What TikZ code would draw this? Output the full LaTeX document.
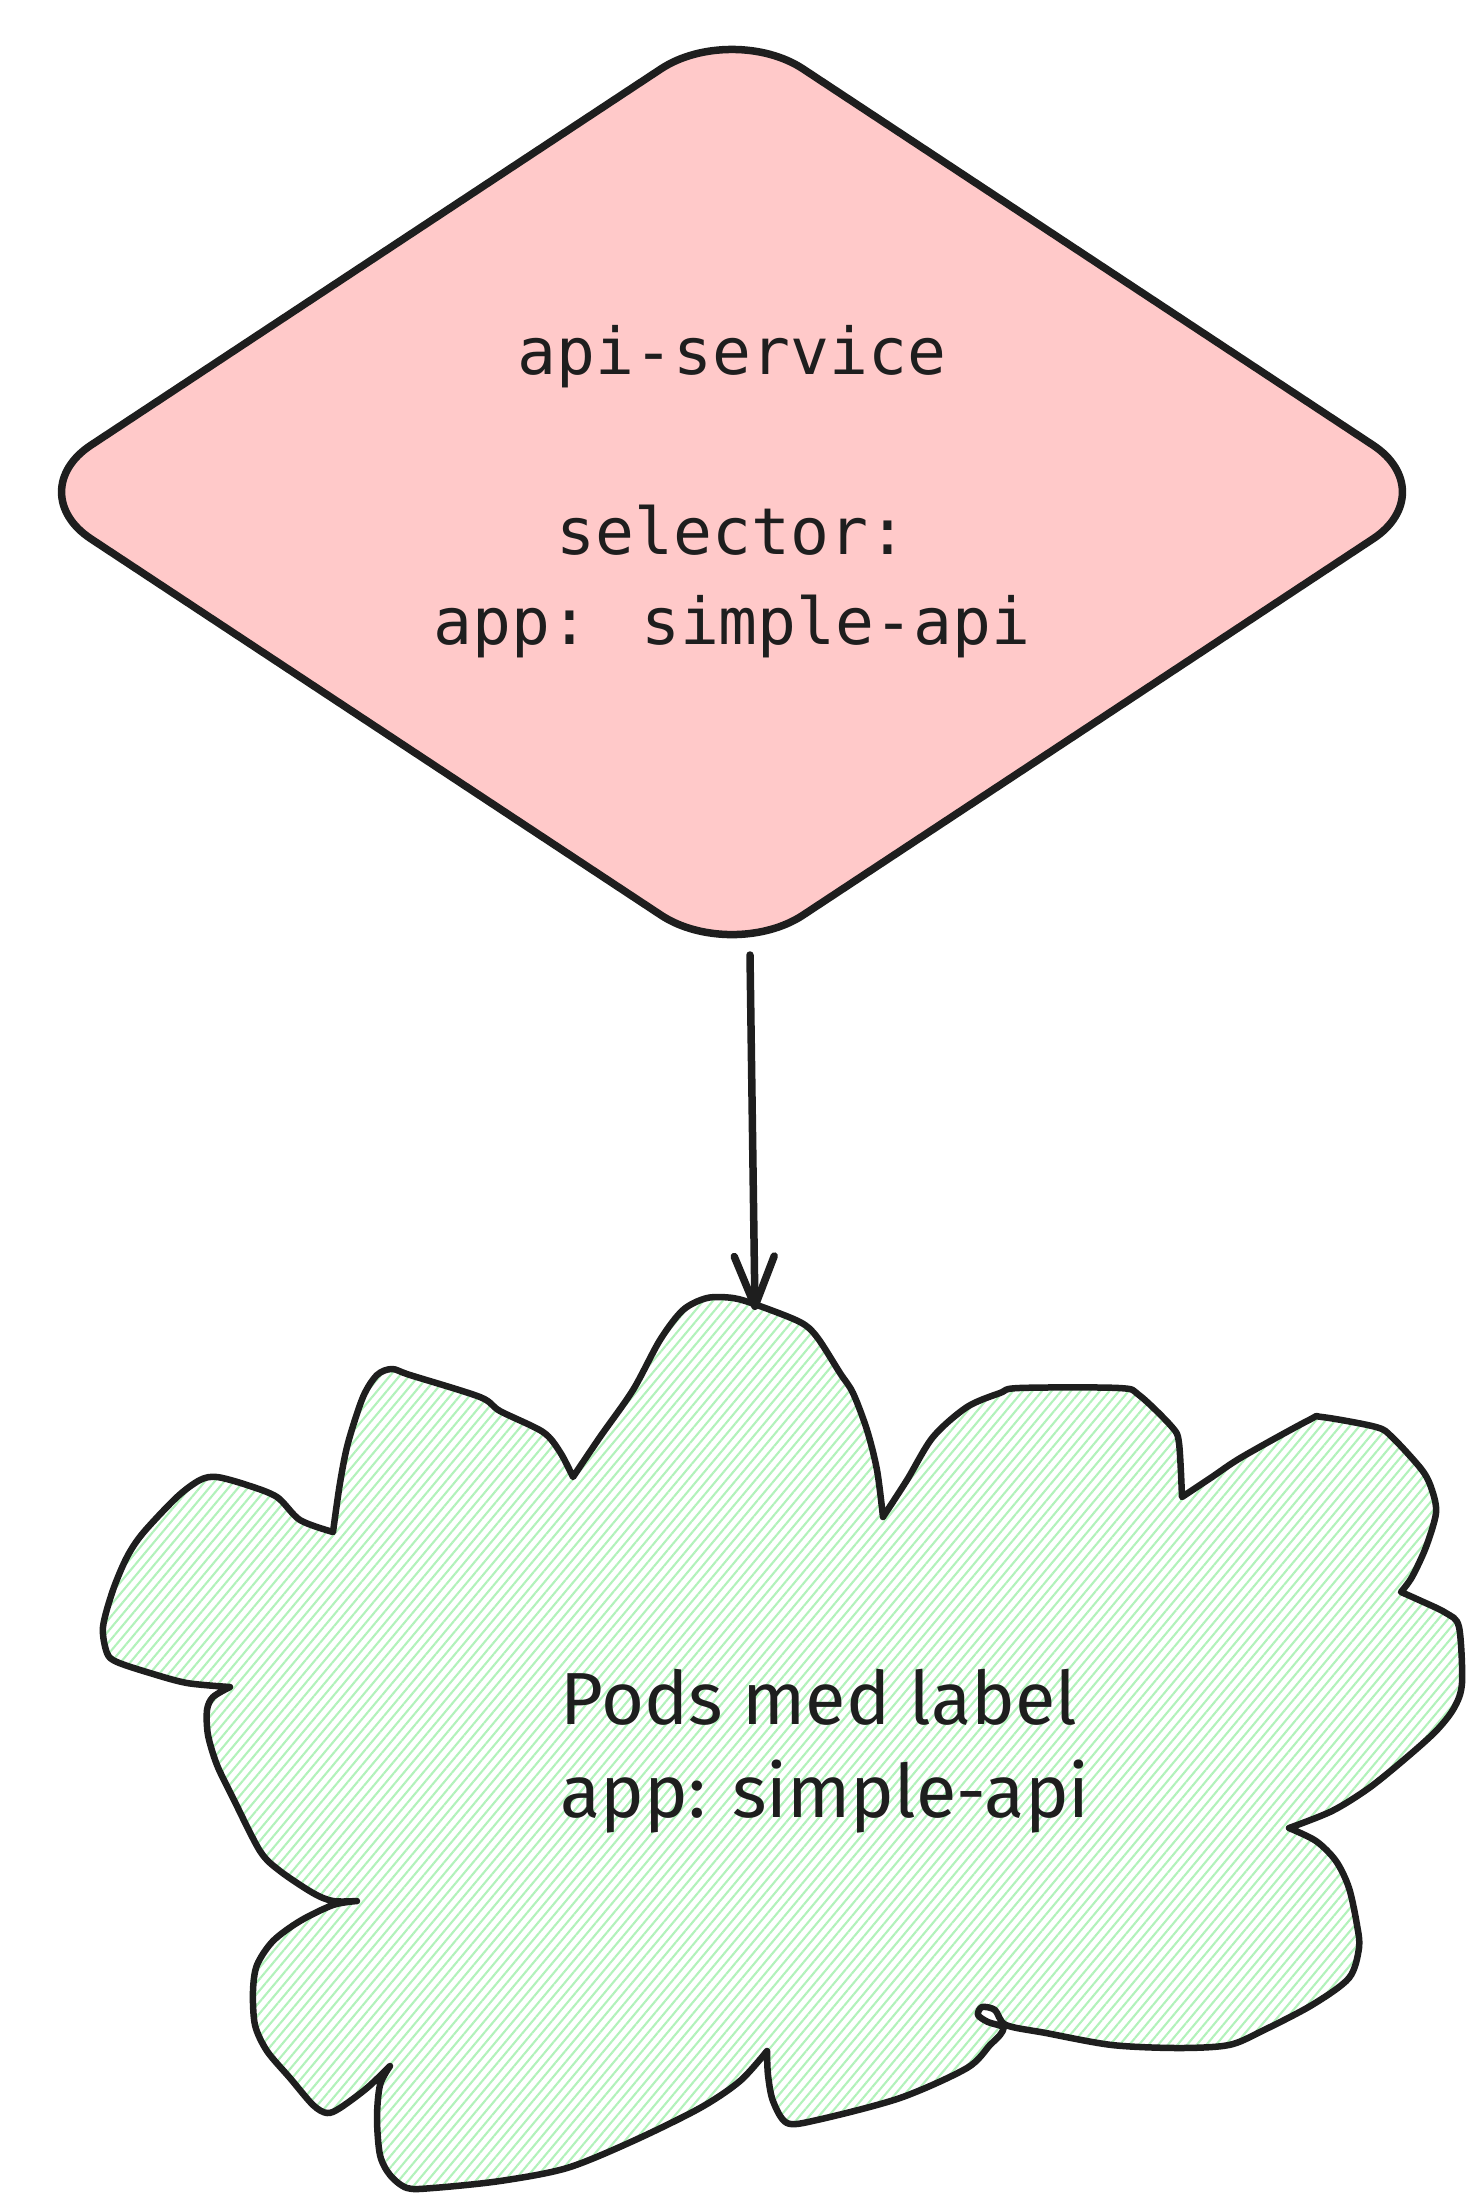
\documentclass[tikz,border=0pt]{standalone}
\usepackage{fontspec}
\usetikzlibrary{shapes.geometric,arrows.meta,patterns.meta}
\newfontfamily\svcfont{DejaVu Sans Mono}
\newfontfamily\podfont{Fira Sans}
\definecolor{ink}{HTML}{1E1E1E}
\definecolor{svcred}{HTML}{FFC9C9}
\definecolor{podgreen}{HTML}{B2F2BB}

\begin{document}
\begin{tikzpicture}[x=0.1mm, y=-0.1mm,
  svcbox/.style={diamond, draw=ink, fill=svcred, line width=0.75mm,
    rounded corners=8.5mm, minimum width=142.4mm, minimum height=94mm,
    shape aspect=1.5, inner sep=0pt, outer sep=0pt, text=ink, align=center,
    font=\svcfont\fontsize{18.4pt}{25.6pt}\selectfont},
  cloudline/.style={draw=ink, line width=0.65mm, line join=round, line cap=round,
    pattern={Lines[angle=50, distance=2.1pt, line width=0.6pt]}, pattern color=podgreen},
  podtext/.style={text=ink, align=left, inner sep=0pt,
    font=\podfont\fontsize{21pt}{26.5pt}\selectfont},
  flowarrow/.style={draw=ink, line width=0.75mm, line cap=round,
    -{Straight Barb[length=5mm, width=4mm, line join=round, line cap=round]}}]
  \useasboundingbox (0, 0) rectangle (1479, 2208);

  \draw [cloudline] (333, 1532)
    -- plot [smooth] coordinates {(333, 1532) (340, 1483) (348, 1443) (363, 1397) (377, 1375) (392, 1369) (410, 1375) (480, 1397) (500, 1411) (543, 1432) (560, 1452) (573, 1477)}
    -- plot [smooth] coordinates {(573, 1477) (600, 1437) (633, 1390) (660, 1340) (683, 1310) (707, 1298) (733, 1298) (757, 1305) (800, 1322) (817, 1337) (840, 1373) (853, 1393) (867, 1430) (877, 1470) (883, 1517)}
    -- plot [smooth] coordinates {(883, 1517) (907, 1480) (933, 1437) (967, 1407) (1000, 1393) (1019, 1388) (1119, 1388) (1139, 1395) (1172, 1427) (1179, 1443) (1182, 1497)}
    -- plot [smooth] coordinates {(1182, 1497) (1212, 1477) (1242, 1457) (1309, 1420) (1322, 1417) (1376, 1427) (1392, 1437) (1422, 1470) (1432, 1490) (1436, 1513) (1426, 1547) (1412, 1577) (1401, 1592)}
    -- plot [smooth] coordinates {(1401, 1592) (1419, 1600) (1446, 1613) (1459, 1627) (1462, 1683) (1454, 1708) (1436, 1731) (1406, 1758) (1369, 1788) (1332, 1811) (1289, 1828)}
    -- plot [smooth] coordinates {(1289, 1828) (1316, 1841) (1336, 1861) (1349, 1888) (1357, 1925) (1359, 1948) (1349, 1978) (1312, 2005) (1262, 2031) (1229, 2045) (1179, 2048) (1112, 2045) (1046, 2033) (1006, 2025) (995, 2010) (982, 2007) (978, 2015) (988, 2022) (1003, 2027) (1000, 2035) (990, 2045) (967, 2068) (900, 2098) (817, 2120) (787, 2123) (773, 2101) (768, 2075) (767, 2051)}
    -- plot [smooth] coordinates {(767, 2051) (740, 2081) (700, 2108) (633, 2141) (567, 2168) (500, 2181) (433, 2188) (407, 2188) (390, 2175) (380, 2155) (377, 2118) (380, 2085) (390, 2066)}
    -- plot [smooth] coordinates {(390, 2066) (367, 2088) (340, 2108) (327, 2113) (313, 2105) (290, 2078) (267, 2051) (255, 2025) (253, 1991) (257, 1965) (273, 1941) (300, 1921) (333, 1905) (357, 1901)}
    -- plot [smooth] coordinates {(357, 1901) (333, 1901) (313, 1893) (280, 1871) (260, 1851) (233, 1798) (217, 1765) (208, 1735) (207, 1710) (213, 1697) (230, 1687)}
    -- plot [smooth] coordinates {(230, 1687) (187, 1683) (150, 1673) (117, 1662) (107, 1653) (103, 1627) (113, 1590) (127, 1557) (143, 1533) (177, 1497) (200, 1480) (217, 1477) (247, 1485) (277, 1497) (300, 1520) (333, 1532)}
    -- cycle;

  \node [svcbox] (svc) at (732, 492) {api-service\\[25.6pt]selector:\\app: simple-api};
  \node [podtext, anchor=north west] (pods) at (560, 1668) {Pods med label\\app: simple-api};
  \coordinate (podstop) at (755, 1310);
  \draw [flowarrow] ([xshift=1.8mm, yshift=0.7mm]svc.south) -- (podstop);
\end{tikzpicture}
\end{document}
